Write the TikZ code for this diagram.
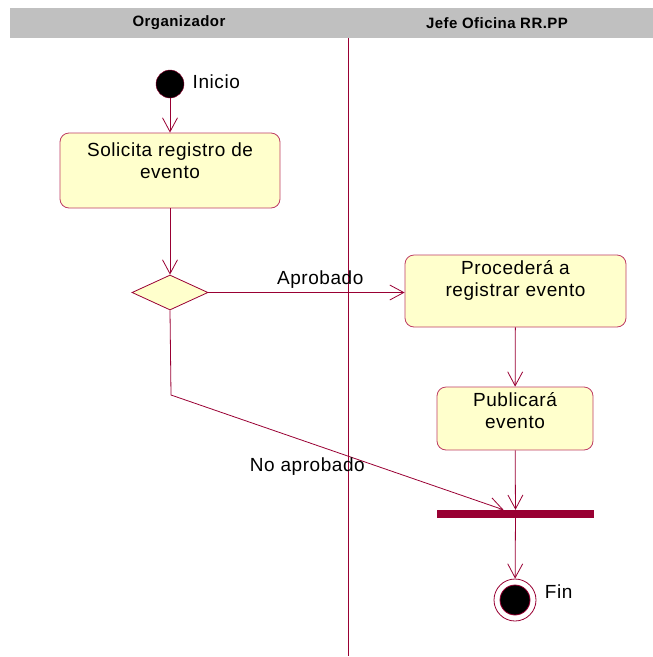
\documentclass[tikz,border=0pt]{standalone}
\usepackage{fontspec}
\setmainfont{Liberation Sans}[LetterSpace=3]
\usepackage{tikz}
\usetikzlibrary{
    arrows.meta,
    shapes.geometric,
    positioning
}
\definecolor{umlline}{RGB}{153,0,51}
\definecolor{umlbox}{RGB}{255,255,204}
\definecolor{umlborder}{RGB}{190,60,100}
\definecolor{laneband}{RGB}{192,192,192}
\tikzset{
    act/.style={draw=umlborder, fill=umlbox, rounded corners=9pt, line width=0.8pt, inner sep=0pt},
    flow/.style={draw=umlline, line width=0.8pt, -{Straight Barb[length=14pt,width=15pt]}},
    lane/.style={font=\fontsize{15}{18}\selectfont\bfseries},
    lbl/.style={font=\fontsize{19}{22}\selectfont}
}
\newcommand{\acttext}[4]{\parbox[c][#1][t]{#2}{\vspace*{#3}\centering\fontsize{19}{22}\selectfont #4}}

\begin{document}
\begin{tikzpicture}[x=1pt, y=-1pt]
        \useasboundingbox (0,0) rectangle (653,657);

        % swimlanes
        \fill[laneband] (10,8) rectangle (653,38);
        \node[lane] (org)  at (179,23) {Organizador};
        \node[lane] (jefe) at (497,23) {Jefe Oficina RR.PP};
        \draw[umlline, line width=0.8pt] (348,38) -- (348,656);

        % Organizador
        \draw (170,84) node[circle, draw=umlline, fill=black, minimum size=28pt, inner sep=0pt](ini){};
        \node[lbl, right=5pt of ini, yshift=2pt] {Inicio};
        \draw (170,170.5) node[act](sol){\acttext{75pt}{220pt}{10pt}{Solicita registro de\\evento}};
        \draw (170,292.5) node[diamond, draw=umlline, fill=umlbox, line width=0.8pt, minimum width=76pt, minimum height=35pt, inner sep=0pt](dec){};
        \coordinate (noap) at (171,395);

        % Jefe Oficina RR.PP
        \draw (515.5,291) node[act](reg){\acttext{72pt}{221pt}{6pt}{Procederá a\\registrar evento}};
        \draw (515,418.5) node[act](pub){\acttext{63pt}{156pt}{6pt}{Publicará\\evento}};
        \draw (515.5,514) node[fill=umlline, minimum width=157pt, minimum height=8pt, inner sep=0pt](bar){};
        \draw (515,600) node[circle, draw=umlline, line width=0.8pt, fill=white, minimum size=42pt, inner sep=0pt,
            path picture={\filldraw[fill=black, draw=umlline] (path picture bounding box.center) circle (15pt);}](fin){};
        \node[lbl, right=5pt of fin, yshift=8pt] {Fin};

        \draw[flow] (ini) -- (sol);
        \draw[flow] (sol) -- (dec);
        \draw[flow] (dec.east) -- node[lbl, above, pos=0.57]{Aprobado} (dec.east -| reg.west);
        \draw[flow] (reg) -- (pub);
        \draw[flow] (pub) -- (bar);
        \draw[flow] (dec.south) -- (noap) -- node[lbl, below=12pt, pos=0.41]{No aprobado} ([xshift=-12pt]bar.north);
        \draw[flow] (bar) -- (fin);
    \end{tikzpicture}
\end{document}
